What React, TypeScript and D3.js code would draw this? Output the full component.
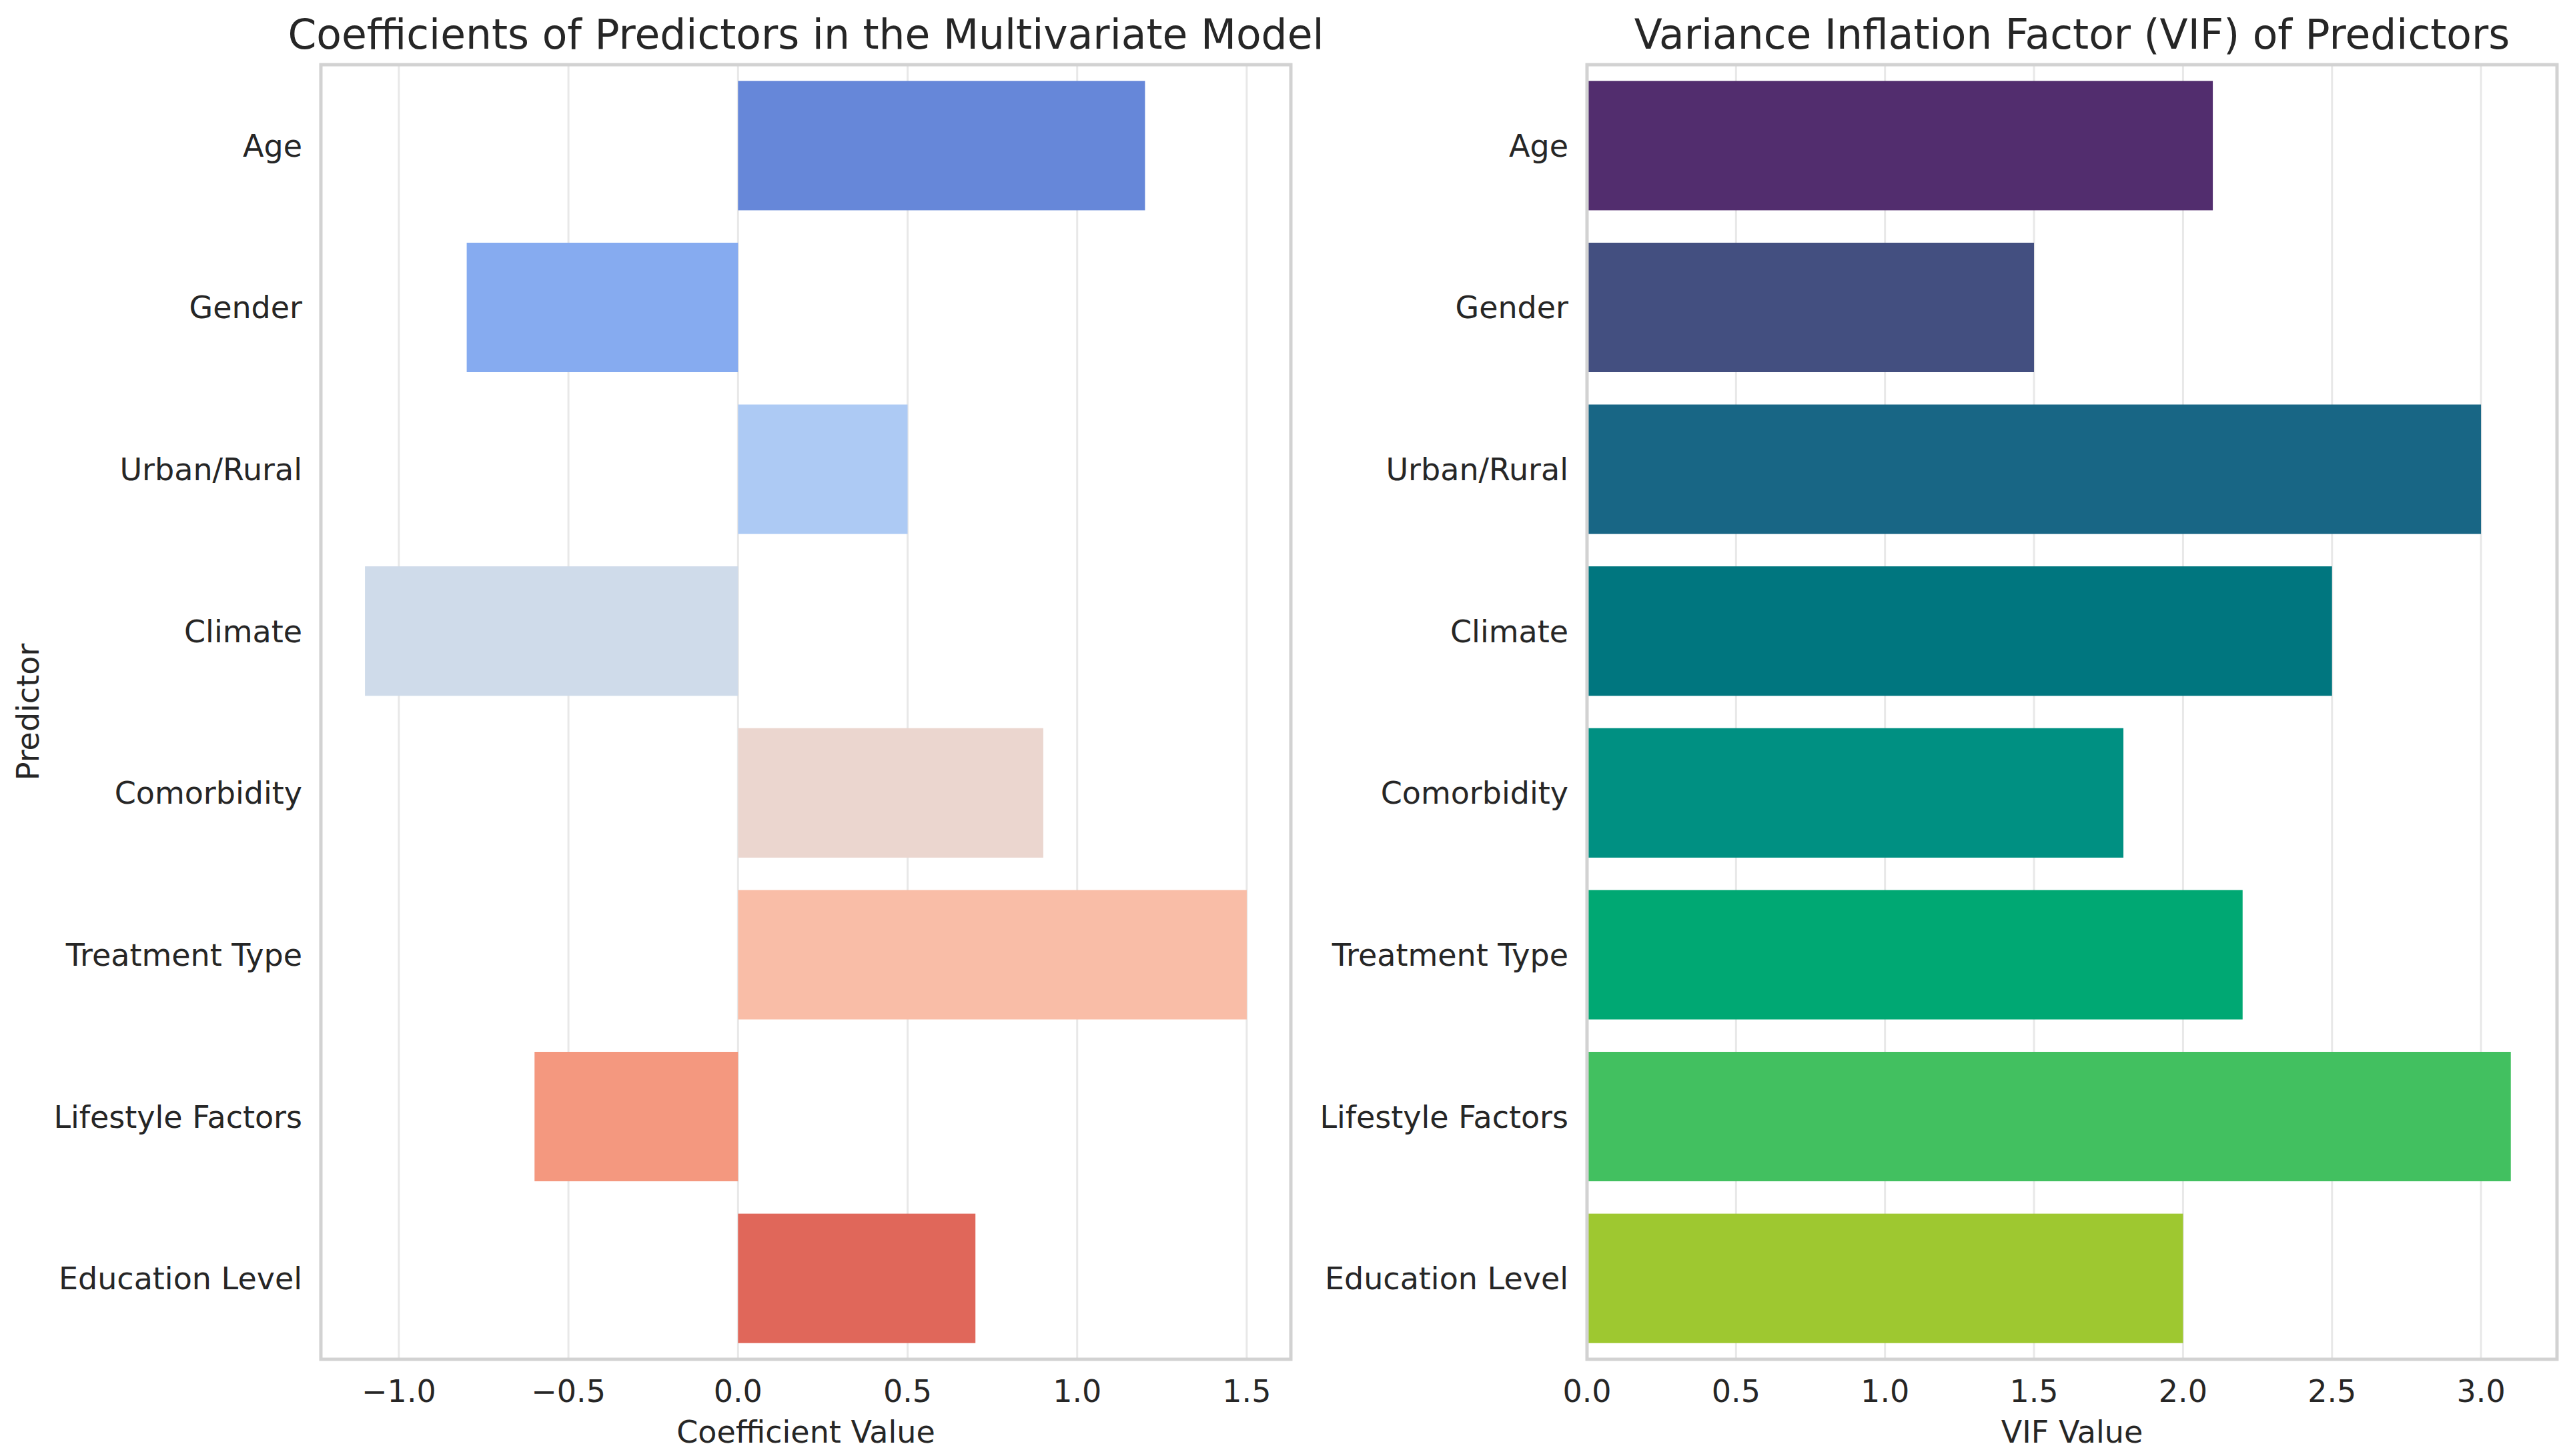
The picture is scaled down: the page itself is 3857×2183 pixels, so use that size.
import React from 'react';
import * as d3 from 'd3';

const predictors = ['Age', 'Gender', 'Urban/Rural', 'Climate', 'Comorbidity', 'Treatment Type', 'Lifestyle Factors', 'Education Level'];
const coefficients = [1.2, -0.8, 0.5, -1.1, 0.9, 1.5, -0.6, 0.7];
const vifValues = [2.1, 1.5, 3.0, 2.5, 1.8, 2.2, 3.1, 2.0];

const coefColors = ['#6687d9', '#86abf0', '#adcaf4', '#cfdbea', '#ebd6cf', '#f9bda7', '#f4987f', '#e0675a'];
const vifColors = ['#522d6e', '#434f80', '#186685', '#00767f', '#009082', '#00a873', '#42c060', '#9ec830'];

const coefTicks = [-1.0, -0.5, 0.0, 0.5, 1.0, 1.5];
const vifTicks = [0.0, 0.5, 1.0, 1.5, 2.0, 2.5, 3.0];

const W = 3857;
const H = 2183;
const top = 97;
const bottom = 2038;
const font = '"DejaVu Sans", sans-serif';
const textColor = '#262626';
const fmt = d3.format('.1f');

type PanelProps = {
  x0: number;
  x1: number;
  values: number[];
  colors: string[];
  ticks: number[];
  title: string;
  xLabel: string;
  yLabel?: string;
};

// matplotlib style 5% margins, but keep 0 as the edge when all values are positive
function domainOf(values: number[]): [number, number] {
  const lo = Math.min(0, d3.min(values)!);
  const hi = Math.max(0, d3.max(values)!);
  const m = (hi - lo) * 0.05;
  return [lo < 0 ? lo - m : 0, hi + m];
}

function Panel({ x0, x1, values, colors, ticks, title, xLabel, yLabel }: PanelProps) {
  const x = d3.scaleLinear().domain(domainOf(values)).range([x0, x1]);
  const y = d3.scaleBand<string>().domain(predictors).range([top, bottom]).paddingInner(0.2).paddingOuter(0.1);
  const cx = (x0 + x1) / 2;

  return (
    <g>
      <text x={cx} y={73} textAnchor="middle" fontSize={61.5} fill={textColor} fontFamily={font}>{title}</text>

      {ticks.map(t => (
        <line key={'g' + t} x1={x(t)} x2={x(t)} y1={top} y2={bottom} stroke="#e8e8e8" strokeWidth={3} />
      ))}

      {predictors.map((p, i) => (
        <rect
          key={p}
          x={Math.min(x(0), x(values[i]))}
          width={Math.abs(x(values[i]) - x(0))}
          y={y(p)}
          height={y.bandwidth()}
          fill={colors[i]}
        />
      ))}

      <rect x={x0} y={top} width={x1 - x0} height={bottom - top} fill="none" stroke="#d2d2d2" strokeWidth={5} />

      {predictors.map(p => (
        <text key={'l' + p} x={x0 - 28} y={y(p)! + y.bandwidth() / 2} dy="0.36em" textAnchor="end"
          fontSize={46} fill={textColor} fontFamily={font}>{p}</text>
      ))}

      {ticks.map(t => (
        <text key={'t' + t} x={x(t)} y={2102} textAnchor="middle" fontSize={46} fill={textColor} fontFamily={font}>{fmt(t)}</text>
      ))}

      <text x={cx} y={2163} textAnchor="middle" fontSize={46} fill={textColor} fontFamily={font}>{xLabel}</text>

      {yLabel && (
        <text transform={`translate(58,${(top + bottom) / 2}) rotate(-90)`} textAnchor="middle"
          fontSize={46} fill={textColor} fontFamily={font}>{yLabel}</text>
      )}
    </g>
  );
}

export default function App() {
  return (
    <svg width={W} height={H} style={{ position: 'absolute', left: 0, top: 0, background: '#fff' }}>
      <rect width={W} height={H} fill="#fff" />
      <Panel
        x0={481}
        x1={1935}
        values={coefficients}
        colors={coefColors}
        ticks={coefTicks}
        title="Coefficients of Predictors in the Multivariate Model"
        xLabel="Coefficient Value"
        yLabel="Predictor"
      />
      <Panel
        x0={2379}
        x1={3833}
        values={vifValues}
        colors={vifColors}
        ticks={vifTicks}
        title="Variance Inflation Factor (VIF) of Predictors"
        xLabel="VIF Value"
      />
    </svg>
  );
}
